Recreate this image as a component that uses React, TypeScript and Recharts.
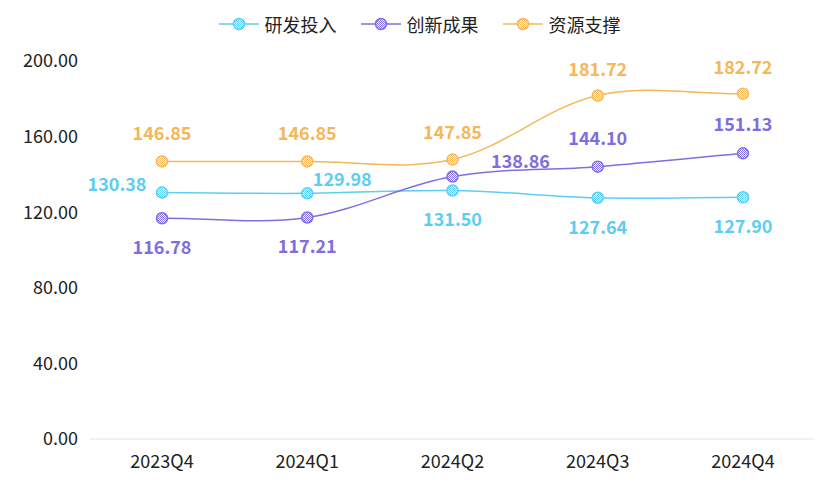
import { LineChart, Line, XAxis, YAxis, Legend, LabelList } from "recharts"

const quarters = ["2023Q4", "2024Q1", "2024Q2", "2024Q3", "2024Q4"]
const rdInput = [130.38, 129.98, 131.5, 127.64, 127.9]
const innovation = [116.78, 117.21, 138.86, 144.1, 151.13]
const resources = [146.85, 146.85, 147.85, 181.72, 182.72]
const yTicks = [0, 40, 80, 120, 160, 200]

const seriesNames = ["研发投入", "创新成果", "资源支撑"]

// label placement per point: [dx, dy] from the dot centre
const rdLabelOffsets = [[-45, -10], [35, -15], [0, 28], [0, 28], [0, 28]]
const innovLabelOffsets = [[0, 28], [0, 28], [68, -17], [0, -30], [0, -30]]
const resLabelOffsets = [[0, -29], [0, -29], [0, -29], [0, -28], [0, -28]]

const data = quarters.map((q, i) => ({
  quarter: q,
  rd: rdInput[i],
  innov: innovation[i],
  res: resources[i],
}))

const series = [
  { key: "rd", name: seriesNames[0], color: "#5ccdf3", pattern: "patRd", offsets: rdLabelOffsets },
  { key: "innov", name: seriesNames[1], color: "#806de1", pattern: "patInnov", offsets: innovLabelOffsets },
  { key: "res", name: seriesNames[2], color: "#f5b757", pattern: "patRes", offsets: resLabelOffsets },
]

const font = '"Noto Sans CJK SC", "Microsoft YaHei", sans-serif'

// smooth curve similar to echarts "smooth" (bezier control points from neighbours)
const smoothCurve = (context: any) => {
  let pts: number[][] = []
  const smooth = 0.35
  return {
    areaStart() {},
    areaEnd() {},
    lineStart() {
      pts = []
    },
    point(x: number, y: number) {
      pts.push([x, y])
    },
    lineEnd() {
      if (!pts.length) return
      const cps = pts.map((p, i) => {
        const prev = pts[i - 1] || p
        const next = pts[i + 1] || p
        const vx = (next[0] - prev[0]) * smooth
        const vy = (next[1] - prev[1]) * smooth
        const d0 = Math.hypot(p[0] - prev[0], p[1] - prev[1])
        const d1 = Math.hypot(next[0] - p[0], next[1] - p[1])
        const sum = d0 + d1 || 1
        return {
          inn: [p[0] - (vx * d0) / sum, p[1] - (vy * d0) / sum],
          out: [p[0] + (vx * d1) / sum, p[1] + (vy * d1) / sum],
        }
      })
      context.moveTo(pts[0][0], pts[0][1])
      for (let i = 0; i < pts.length - 1; i++) {
        const a = cps[i].out
        const b = cps[i + 1].inn
        context.bezierCurveTo(a[0], a[1], b[0], b[1], pts[i + 1][0], pts[i + 1][1])
      }
    },
  }
}

const makeDot = (color: string, pattern: string) => (props: any) => {
  const { cx, cy, index } = props
  if (cx == null || cy == null) return null
  return <circle key={index} cx={cx} cy={cy} r={5.5} fill={`url(#${pattern})`} stroke={color} strokeWidth={1.5} />
}

const makeLabel = (color: string, offsets: number[][]) => (props: any) => {
  const { x, y, value, index } = props
  const [dx, dy] = offsets[index] || [0, -28]
  return (
    <text
      x={x + dx}
      y={y + dy}
      textAnchor="middle"
      dominantBaseline="central"
      fill={color}
      fontSize={18}
      fontWeight="bold"
      fontFamily={font}
    >
      {Number(value).toFixed(2)}
    </text>
  )
}

const CustomLegend = () => (
  <div style={{ display: "flex", justifyContent: "center", alignItems: "center", height: 40, fontFamily: font }}>
    {series.map((s, i) => (
      <div key={s.key} style={{ display: "flex", alignItems: "center", marginLeft: i === 0 ? 0 : 24 }}>
        <svg width={40} height={14}>
          <line x1={0} y1={7} x2={40} y2={7} stroke={s.color} strokeWidth={1.5} />
          <circle cx={20} cy={7} r={5.5} fill={`url(#${s.pattern})`} stroke={s.color} strokeWidth={1.5} />
        </svg>
        <span style={{ marginLeft: 6, fontSize: 18, color: "#222" }}>{s.name}</span>
      </div>
    ))}
  </div>
)

export default function App() {
  return (
    <div style={{ position: "absolute", left: 0, top: 0, width: 839, height: 484, background: "#fff" }}>
      <LineChart width={839} height={484} data={data} margin={{ top: 21, right: 24, left: 0, bottom: 0 }}>
        <defs>
          {series.map((s) => (
            <pattern key={s.pattern} id={s.pattern} patternUnits="userSpaceOnUse" width={2} height={2}>
              <rect x={0} y={0} width={2} height={2} fill="#fff" />
              <rect x={0} y={0} width={1} height={1} fill={s.color} />
              <rect x={1} y={1} width={1} height={1} fill={s.color} />
            </pattern>
          ))}
        </defs>
        <Legend
          verticalAlign="top"
          align="center"
          height={40}
          wrapperStyle={{ top: 4, left: 0, width: 839 }}
          content={<CustomLegend />}
        />
        <XAxis
          dataKey="quarter"
          axisLine={{ stroke: "#e3e3e3" }}
          tickLine={false}
          tickSize={0}
          tickMargin={16}
          height={45}
          padding={{ left: 72, right: 72 }}
          tick={{ fill: "#222", fontSize: 18, fontFamily: font }}
        />
        <YAxis
          domain={[0, 200]}
          ticks={yTicks}
          axisLine={false}
          tickLine={false}
          tickSize={0}
          tickMargin={12}
          width={90}
          tickFormatter={(v: number) => v.toFixed(2)}
          tick={{ fill: "#222", fontSize: 18, fontFamily: font }}
        />
        {series.map((s) => (
          <Line
            key={s.key}
            type={smoothCurve as any}
            dataKey={s.key}
            name={s.name}
            stroke={s.color}
            strokeWidth={1.5}
            dot={makeDot(s.color, s.pattern)}
            activeDot={false}
            isAnimationActive={false}
          >
            <LabelList dataKey={s.key} content={makeLabel(s.color, s.offsets)} />
          </Line>
        ))}
      </LineChart>
    </div>
  )
}
